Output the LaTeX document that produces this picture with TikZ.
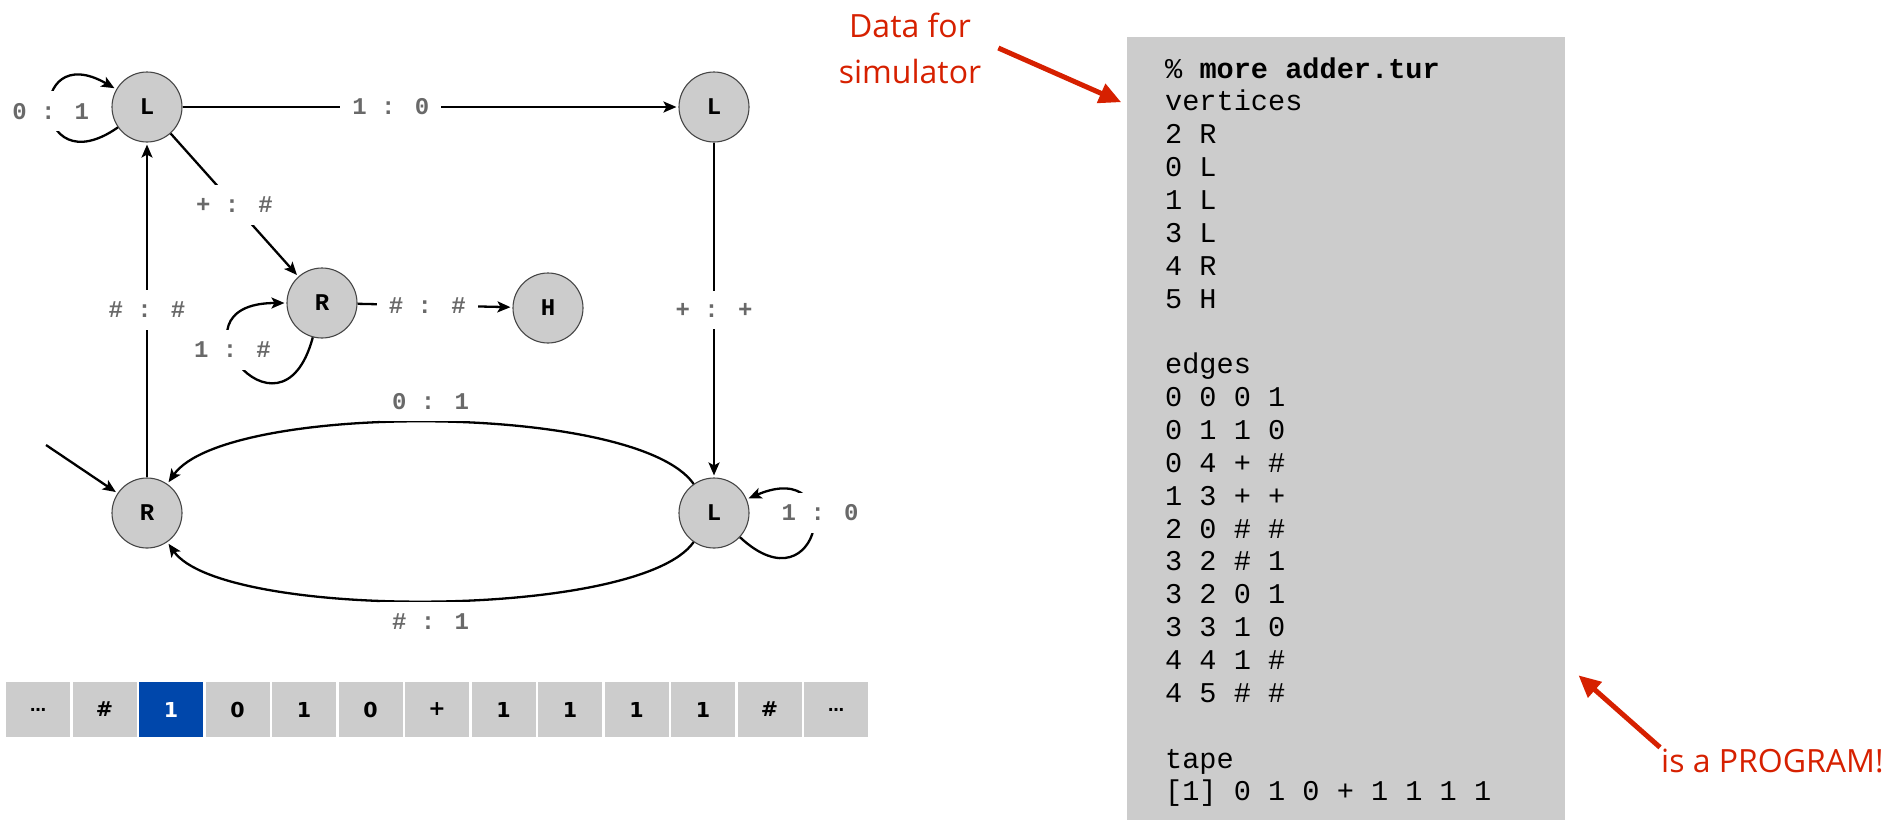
\documentclass[tikz,border=0pt]{standalone}
\usepackage{fontspec}
\usetikzlibrary{automata, positioning, arrows, arrows.meta}
\newfontfamily\codefont{Liberation Mono}
\newfontfamily\tapefont{DejaVu Sans}
\newfontfamily\notefont{Open Sans}
\definecolor{cellgray}{RGB}{204,204,204}
\definecolor{headblue}{RGB}{0,71,171}
\definecolor{lblgray}{RGB}{105,105,105}
\definecolor{notered}{RGB}{214,32,0}
\definecolor{ringgray}{RGB}{70,70,70}

\begin{document}
\begin{tikzpicture}[->,>={Stealth[length=6.5pt,width=5.5pt,inset=1.5pt]},shorten >=1pt,node distance=283.5pt,
        x=0.5pt,y=0.5pt,line width=1.15pt,
        every state/.style={fill=cellgray,draw=ringgray,line width=0.55pt,
          minimum size=35pt,inner sep=0pt,font=\codefont\bfseries\fontsize{12}{14}\selectfont},
        lab/.style={fill=white,text=lblgray,inner sep=6pt,
          font=\codefont\bfseries\fontsize{12}{14}\selectfont},
        cell/.style={fill=cellgray,minimum width=32pt,minimum height=27.5pt,
          inner sep=0pt,font=\tapefont\bfseries\fontsize{10.3}{12}\selectfont},
        head/.style={cell,fill=headblue,text=white},
        more/.style={cell,font=\tapefont\bfseries\fontsize{8}{9}\selectfont},
        codeline/.style={anchor=base west,inner sep=0pt,
          font=\codefont\fontsize{14.3}{16}\selectfont},
        note/.style={text=notered,inner sep=0pt,
          font=\notefont\fontsize{16}{23}\selectfont},
        pointer/.style={draw=notered,line width=2.5pt,-{Triangle[length=11pt,width=10pt]}}]

  \useasboundingbox (0,0) rectangle (1899,-820);

  \node[state] (V0) at (147,-107) {L};
  \node[state] (V1) [right of=V0] {L};
  \node[state] (V2) [node distance=203pt, below of=V0] {R};
  \node[state] (V3) [node distance=203pt, below of=V1] {L};
  \node[state] (V4) at (322,-303) {R};
  \node[state] (V5) at (548,-308) {H};
  \coordinate (entry) at (46,-445);

  \path (V0) edge [out=215,in=150,distance=52.5pt] node[lab] {0 : 1} (V0)
        (V0) edge            node[lab,pos=0.42] {1 : 0} (V1)
        (V0) edge            node[lab] {+ : \#} (V4)
        (V1) edge            node[lab] {+ : +} (V3)
        (V2) edge            node[lab] {\# : \#} (V0)
        (V3) edge [bend right=55,distance=50pt]   node[lab,above] {0 : 1} (V2)
        (V3) edge [bend left=55,distance=47.5pt]  node[lab,below] {\# : 1} (V2)
        (V3) edge [out=317,in=23,distance=55.5pt] node[lab,pos=0.62,xshift=4.5pt] {1 : 0} (V3)
        (V4) edge [out=255,in=180,distance=62.5pt] node[lab,pos=0.6] {1 : \#} (V4)
        (V4) edge            node[lab,pos=0.45] {\# : \#} (V5)
        (entry) edge (V2);

  % tape
  \foreach \s/\k [count=\i from 0] in {\ldots/more,\#/cell,1/head,0/cell,1/cell,0/cell,+/cell,
      1/cell,1/cell,1/cell,1/cell,\#/cell,\ldots/more}
    \node[\k] (cell\i) at ({38+66.5*\i},-709.5) {\s};

  % adder.tur listing
  \fill[cellgray,-] (1127,-37) rectangle (1565,-820);
  \foreach \n/\t in {0/{\% \textbf{more adder.tur}},1/vertices,2/2 R,3/0 L,4/1 L,5/3 L,6/4 R,7/5 H,
      9/edges,10/0 0 0 1,11/0 1 1 0,12/0 4 + \#,13/1 3 + +,14/2 0 \# \#,15/3 2 \# 1,
      16/3 2 0 1,17/3 3 1 0,18/4 4 1 \#,19/4 5 \# \#,21/tape,22/{[1] 0 1 0 + 1 1 1 1}}
    \node[codeline] (code\n) at (1164,{-78-32.86*\n}) {\t};

  \node[note,align=center] (data) at (910,-48) {Data for\\simulator};
  \node[note,anchor=base west] (prog) at (1660,-772) {is a PROGRAM!};
  \coordinate (dataTo) at (1123,-103);
  \coordinate (progTo) at (1577,-674);
  \draw[pointer] ([xshift=8pt]data.east) -- (dataTo);
  \draw[pointer] (prog.north west) -- (progTo);

\end{tikzpicture}
\end{document}
